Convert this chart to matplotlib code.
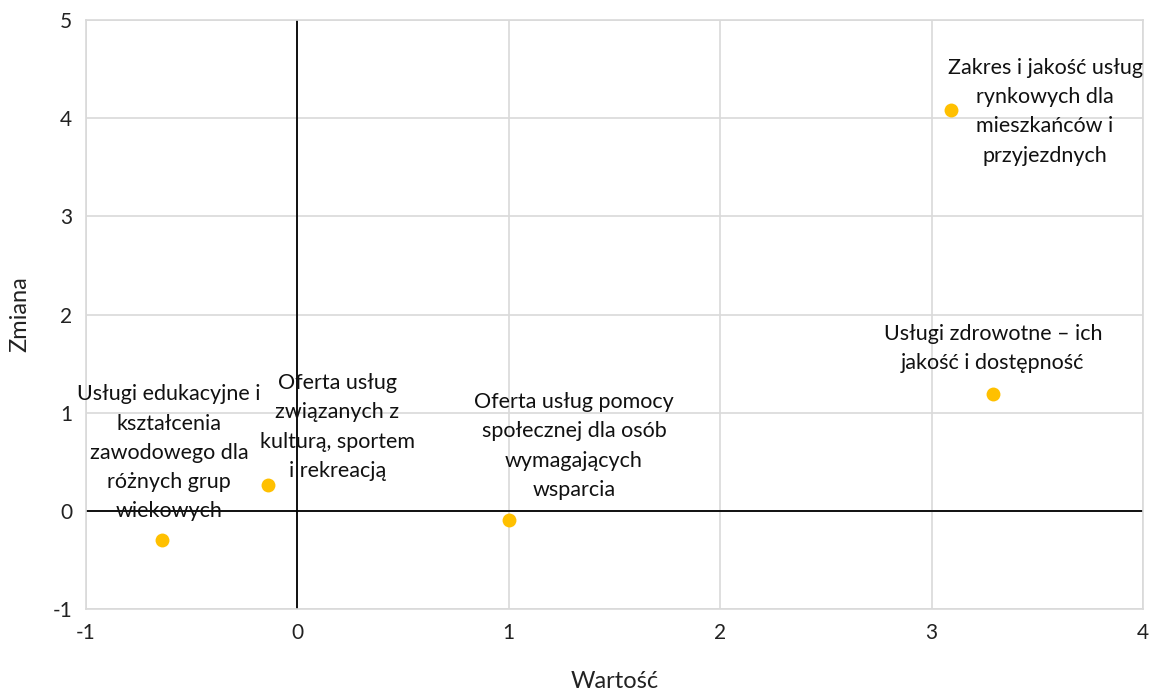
import matplotlib as mpl
mpl.use('Agg')
import matplotlib.pyplot as plt

plt.rcParams['font.family'] = ['Lato', 'DejaVu Sans']
plt.rcParams['axes.unicode_minus'] = False

# dane
labels = [
    "Zakres i jakość usług\nrynkowych dla\nmieszkańców i\nprzyjezdnych",
    "Usługi zdrowotne – ich\njakość i dostępność",
    "Oferta usług pomocy\nspołecznej dla osób\nwymagających\nwsparcia",
    "Oferta usług\nzwiązanych z\nkulturą, sportem\ni rekreacją",
    "Usługi edukacyjne i\nkształcenia\nzawodowego dla\nróżnych grup\nwiekowych",
]
wartosc = [3.09, 3.29, 1.00, -0.14, -0.64]
zmiana = [4.08, 1.19, -0.09, 0.26, -0.30]

# label offsets (points)
offsets = [(68, -1), (0, 33), (47, 53), (50, 42), (5, 63)]

fig = plt.figure(figsize=(11.57, 6.91), dpi=100)
ax = fig.add_axes([86/1157, 1-609/691, (1143-86)/1157, (609-20)/691])

grid_c = '#d9d9d9'
ax.set_xlim(-1, 4)
ax.set_ylim(-1, 5)
ax.set_xticks(range(-1, 5))
ax.set_yticks(range(-1, 6))
ax.grid(True, color=grid_c, lw=1.2)
ax.set_axisbelow(True)
for s in ax.spines.values():
    s.set_color(grid_c)
    s.set_linewidth(1.2)
ax.tick_params(length=0, labelsize=15, pad=10, colors='#222222')

ax.axhline(0, color='black', lw=1.3, zorder=1)
ax.axvline(0, color='black', lw=1.3, zorder=1)

ax.scatter(wartosc, zmiana, s=100, color='#FFC000', zorder=3, linewidths=0)

for lab, x, y, off in zip(labels, wartosc, zmiana, offsets):
    ax.annotate(lab, (x, y), xytext=off, textcoords='offset points',
                ha='center', va='center', fontsize=15.5, linespacing=1.58,
                color='#111111', zorder=4)

ax.set_xlabel("Wartość", fontsize=17, labelpad=20, color='#222222')
ax.set_ylabel("Zmiana", fontsize=17, labelpad=16, color='#222222')

plt.savefig('out.png', dpi=100)
